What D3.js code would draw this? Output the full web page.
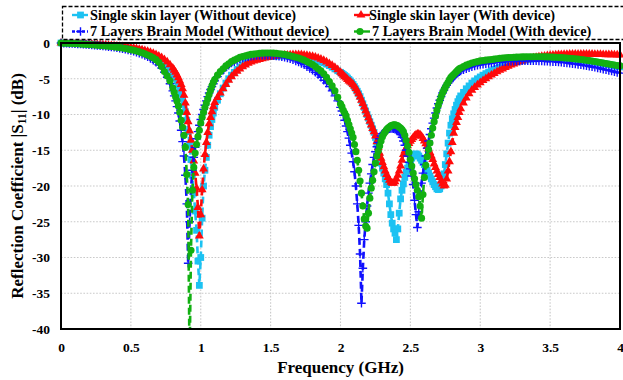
<!DOCTYPE html>
<html><head><meta charset="utf-8">
<script src="https://cdn.jsdelivr.net/npm/d3@7"></script>
<style>
html,body{margin:0;padding:0;background:#fff;}
svg{display:block;font-family:"Liberation Serif","Times New Roman",serif;font-weight:bold;}
</style></head>
<body><svg id="c" width="623" height="380"></svg>
<script>
// Frequency grid (GHz): 0.02 step, 0.01 step around the resonances
const freq = [].concat(
  d3.range(0, 80, 2), d3.range(80, 110, 1), d3.range(110, 200, 2),
  d3.range(200, 286, 1), d3.range(286, 401, 2)).map(i => i / 100);

const xTicks = [0, 0.5, 1, 1.5, 2, 2.5, 3, 3.5, 4];
const yTicks = [0, -5, -10, -15, -20, -25, -30, -35, -40];

const seriesNames = [
  "Single skin layer (Without device)",
  "Single skin layer (With device)",
  "7 Layers Brain Model (Without device)",
  "7 Layers Brain Model (With device)"
];

// Single skin layer (Without device)  |S11| dB
const skinWithout = [
 0,-0.01,-0.02,-0.03,-0.05,-0.06,-0.08,-0.1,-0.12,-0.14,
 -0.16,-0.18,-0.2,-0.23,-0.26,-0.29,-0.32,-0.35,-0.38,-0.42,
 -0.46,-0.5,-0.55,-0.6,-0.66,-0.72,-0.79,-0.87,-0.96,-1.06,
 -1.17,-1.3,-1.45,-1.62,-1.82,-2.05,-2.32,-2.65,-3.05,-3.55,
 -4.1,-4.45,-4.85,-5.3,-5.8,-6.35,-7.0,-7.75,-8.6,-9.6,
 -10.8,-12.4,-14.2,-16.3,-18.5,-21.0,-23.5,-26.2,-30.5,-33.9,
 -30.0,-24.5,-20.0,-17.8,-16.0,-14.3,-12.9,-11.7,-10.7,-9.8,
 -9.0,-8.0,-7.1,-6.3,-5.6,-5.0,-4.5,-4.1,-3.7,-3.35,
 -3.05,-2.8,-2.6,-2.45,-2.32,-2.2,-2.1,-2.02,-1.95,-1.9,
 -1.9,-1.86,-1.83,-1.81,-1.8,-1.8,-1.81,-1.82,-1.84,-1.87,
 -1.91,-1.96,-2.02,-2.09,-2.17,-2.26,-2.36,-2.48,-2.62,-2.78,
 -2.96,-3.16,-3.38,-3.62,-3.88,
 -4.1,-4.25,-4.4,-4.55,-4.7,-4.9,-5.1,-5.3,-5.55,-5.8,
 -6.1,-6.4,-6.75,-7.1,-7.5,-8.0,-8.5,-9.0,-9.5,-10.0,
 -10.5,-11.0,-11.5,-12.0,-12.5,-13.2,-14.1,-15.0,-15.9,-16.8,
 -17.5,-18.2,-19.0,-19.8,-21.0,-22.5,-24.0,-25.2,-26.0,-26.6,
 -27.5,-26.0,-23.8,-21.8,-20.6,-19.7,-18.8,-18.1,-17.5,-17.0,
 -16.5,-16.1,-15.8,-15.6,-15.5,-15.6,-15.8,-16.1,-16.4,-16.7,
 -17.0,-17.4,-17.8,-18.2,-18.6,-19.0,-19.4,-19.8,-20.1,-20.4,
 -20.5,-20.4,-20.0,-19.2,-18.3,-17.0,-15.5,-14.0,-12.6,-11.5,
 -10.6,-9.9,-9.3,-8.7,-8.2,-7.8,
 -7.4,-6.9,-6.4,-6.0,-5.6,-5.3,-5.0,-4.75,-4.5,-4.28,
 -4.07,-3.88,-3.7,-3.53,-3.37,-3.22,-3.08,-2.95,-2.83,-2.72,
 -2.62,-2.53,-2.45,-2.38,-2.32,-2.27,-2.22,-2.18,-2.15,-2.13,
 -2.11,-2.1,-2.1,-2.1,-2.11,-2.12,-2.14,-2.16,-2.19,-2.22,
 -2.25,-2.29,-2.33,-2.38,-2.43,-2.48,-2.54,-2.6,-2.66,-2.73,
 -2.8,-2.87,-2.94,-3.02,-3.1,-3.18,-3.26,-3.35
];

// Single skin layer (With device)
const skinWith = [
 0,-0.01,-0.02,-0.03,-0.04,-0.05,-0.07,-0.09,-0.11,-0.13,
 -0.15,-0.17,-0.19,-0.21,-0.24,-0.27,-0.3,-0.33,-0.36,-0.39,
 -0.43,-0.47,-0.51,-0.56,-0.61,-0.67,-0.73,-0.8,-0.88,-0.97,
 -1.07,-1.18,-1.31,-1.46,-1.63,-1.83,-2.06,-2.33,-2.65,-3.05,
 -3.5,-3.8,-4.1,-4.45,-4.85,-5.3,-5.8,-6.4,-7.3,-8.4,
 -9.7,-11.0,-12.3,-13.6,-15.0,-16.5,-18.2,-20.3,-23.0,-27.0,
 -24.0,-20.5,-17.6,-15.6,-13.9,-12.5,-11.3,-10.4,-9.6,-8.9,
 -8.3,-7.6,-7.0,-6.4,-5.8,-5.2,-4.7,-4.3,-3.95,-3.62,
 -3.32,-3.06,-2.84,-2.66,-2.52,-2.4,-2.29,-2.19,-2.1,-2.02,
 -1.95,-1.89,-1.84,-1.79,-1.75,-1.71,-1.68,-1.65,-1.63,-1.62,
 -1.62,-1.64,-1.68,-1.73,-1.8,-1.88,-1.98,-2.1,-2.25,-2.43,
 -2.64,-2.88,-3.14,-3.42,-3.72,
 -4.1,-4.3,-4.5,-4.7,-4.9,-5.1,-5.3,-5.45,-5.6,-5.8,
 -6.05,-6.35,-6.7,-7.1,-7.55,-8.0,-8.45,-8.95,-9.45,-9.95,
 -10.45,-10.95,-11.45,-11.95,-12.4,-13.0,-13.8,-14.6,-15.4,-16.1,
 -16.7,-17.3,-17.9,-18.4,-18.8,-19.2,-19.45,-19.6,-19.6,-19.4,
 -19.0,-18.5,-17.9,-17.2,-16.4,-15.6,-15.1,-14.7,-14.35,-14.05,
 -13.75,-13.5,-13.25,-13.0,-12.85,-12.75,-12.75,-12.85,-13.05,-13.35,
 -13.7,-14.1,-14.45,-14.8,-15.3,-15.8,-16.3,-16.9,-17.4,-17.9,
 -18.4,-18.8,-19.3,-19.7,-20.0,-19.9,-19.0,-17.9,-16.6,-15.2,
 -13.9,-12.6,-11.8,-11.1,-10.4,-9.7,
 -9.2,-8.4,-7.7,-7.1,-6.6,-6.2,-5.85,-5.55,-5.25,-4.98,
 -4.72,-4.48,-4.25,-4.03,-3.82,-3.62,-3.43,-3.25,-3.08,-2.92,
 -2.77,-2.63,-2.5,-2.38,-2.27,-2.17,-2.08,-2.0,-1.93,-1.87,
 -1.82,-1.77,-1.73,-1.7,-1.67,-1.64,-1.62,-1.6,-1.58,-1.57,
 -1.56,-1.55,-1.55,-1.55,-1.55,-1.56,-1.56,-1.57,-1.58,-1.59,
 -1.6,-1.61,-1.62,-1.63,-1.64,-1.65,-1.66,-1.67
];

// 7 Layers Brain Model (Without device)
const brainWithout = [
 0,-0.02,-0.04,-0.06,-0.08,-0.10,-0.12,-0.15,-0.18,-0.21,
 -0.24,-0.27,-0.3,-0.34,-0.38,-0.42,-0.46,-0.5,-0.55,-0.6,
 -0.66,-0.72,-0.79,-0.87,-0.96,-1.05,-1.16,-1.28,-1.42,-1.57,
 -1.74,-1.93,-2.15,-2.4,-2.7,-3.05,-3.5,-4.1,-4.8,-5.7,
 -6.7,-7.4,-8.1,-8.9,-9.8,-10.9,-12.2,-13.8,-15.8,-18.5,
 -22.5,-30.8,-25.0,-20.5,-17.8,-16.0,-14.6,-13.4,-12.4,-11.5,
 -10.7,-10.0,-9.3,-8.7,-8.1,-7.5,-7.0,-6.5,-6.1,-5.7,
 -5.3,-4.7,-4.2,-3.8,-3.4,-3.1,-2.8,-2.6,-2.4,-2.2,
 -2.1,-2.0,-1.9,-1.85,-1.8,-1.75,-1.72,-1.7,-1.7,-1.7,
 -1.72,-1.75,-1.8,-1.85,-1.9,-2.0,-2.1,-2.2,-2.35,-2.5,
 -2.65,-2.85,-3.05,-3.3,-3.55,-3.8,-4.1,-4.4,-4.8,-5.2,
 -5.6,-6.1,-6.7,-7.4,-8.1,
 -9.0,-9.5,-10.1,-10.8,-11.6,-12.4,-13.3,-14.3,-15.4,-16.6,
 -18.0,-20.0,-22.5,-25.5,-29.5,-36.4,-31.5,-27.5,-25.0,-22.8,
 -21.0,-19.6,-18.3,-17.0,-16.0,-15.2,-14.5,-13.9,-13.4,-13.0,
 -12.7,-12.5,-12.3,-12.15,-12.05,-12.0,-11.95,-11.95,-12.0,-12.05,
 -12.15,-12.3,-12.5,-12.8,-13.2,-13.7,-14.3,-15.0,-15.8,-16.7,
 -17.6,-18.6,-19.8,-22.0,-24.0,-25.8,-23.6,-21.3,-19.6,-18.2,
 -17.0,-15.8,-14.7,-13.7,-12.8,-12.0,-11.2,-10.5,-9.8,-9.1,
 -8.5,-8.0,-7.5,-7.0,-6.6,-6.2,-5.9,-5.6,-5.4,-5.1,
 -4.9,-4.7,-4.5,-4.3,-4.2,-4.0,
 -3.9,-3.75,-3.6,-3.45,-3.3,-3.2,-3.1,-3.0,-2.95,-2.9,
 -2.85,-2.8,-2.75,-2.7,-2.66,-2.63,-2.6,-2.57,-2.55,-2.53,
 -2.51,-2.5,-2.49,-2.48,-2.48,-2.48,-2.48,-2.49,-2.5,-2.51,
 -2.53,-2.55,-2.57,-2.6,-2.63,-2.66,-2.7,-2.74,-2.78,-2.83,
 -2.88,-2.93,-2.99,-3.05,-3.11,-3.18,-3.25,-3.32,-3.4,-3.48,
 -3.56,-3.65,-3.74,-3.83,-3.92,-4.02,-4.12,-4.22
];

// 7 Layers Brain Model (With device)
const brainWith = [
 0,-0.02,-0.03,-0.05,-0.07,-0.09,-0.11,-0.13,-0.16,-0.19,
 -0.22,-0.25,-0.28,-0.31,-0.34,-0.37,-0.41,-0.45,-0.49,-0.54,
 -0.59,-0.64,-0.70,-0.77,-0.85,-0.93,-1.02,-1.12,-1.24,-1.37,
 -1.52,-1.68,-1.87,-2.08,-2.33,-2.7,-3.3,-4.0,-4.6,-5.3,
 -6.3,-6.9,-7.5,-8.1,-8.8,-9.7,-10.8,-11.8,-12.9,-14.6,
 -18.4,-22.6,-45,-29,-20.6,-17.4,-15.4,-14.2,-13.1,-12.2,
 -11.2,-10.4,-9.7,-9.0,-8.4,-7.8,-7.2,-6.6,-6.0,-5.5,
 -5.1,-4.5,-4.0,-3.6,-3.2,-2.9,-2.6,-2.4,-2.2,-2.0,
 -1.9,-1.8,-1.7,-1.6,-1.55,-1.5,-1.45,-1.42,-1.4,-1.4,
 -1.4,-1.42,-1.45,-1.5,-1.55,-1.6,-1.7,-1.8,-1.9,-2.0,
 -2.1,-2.25,-2.4,-2.6,-2.8,-3.0,-3.3,-3.6,-3.9,-4.3,
 -4.8,-5.4,-6.0,-6.7,-7.6,
 -8.5,-8.9,-9.4,-9.8,-10.2,-10.8,-11.4,-12.0,-12.6,-13.2,
 -14.2,-15.2,-16.4,-17.8,-19.3,-21.0,-22.8,-24.6,-25.6,-25.9,
 -23.8,-21.7,-20.3,-19.2,-18.0,-16.8,-15.8,-15.1,-14.4,-13.7,
 -13.1,-12.7,-12.4,-12.1,-11.9,-11.75,-11.6,-11.5,-11.45,-11.45,
 -11.5,-11.6,-11.75,-11.9,-12.1,-12.4,-12.9,-13.6,-14.4,-15.3,
 -16.3,-17.2,-18.2,-19.0,-19.8,-20.6,-21.5,-22.8,-24.5,-21.2,
 -18.8,-17.1,-15.9,-14.9,-14.0,-12.9,-11.9,-11.0,-10.2,-9.4,
 -8.7,-8.1,-7.5,-7.0,-6.6,-6.2,-5.8,-5.5,-5.1,-4.8,
 -4.6,-4.4,-4.2,-4.0,-3.8,-3.6,
 -3.5,-3.3,-3.1,-2.95,-2.8,-2.7,-2.6,-2.5,-2.45,-2.4,
 -2.35,-2.3,-2.25,-2.2,-2.15,-2.1,-2.07,-2.04,-2.02,-2.0,
 -1.98,-1.96,-1.95,-1.94,-1.93,-1.92,-1.92,-1.92,-1.92,-1.93,
 -1.94,-1.95,-1.96,-1.98,-2.0,-2.02,-2.05,-2.08,-2.11,-2.14,
 -2.18,-2.22,-2.26,-2.31,-2.36,-2.41,-2.47,-2.53,-2.59,-2.65,
 -2.72,-2.79,-2.86,-2.93,-3.0,-3.07,-3.14,-3.2
];

const seriesColors = ["#1cc2f2", "#ff0a0a", "#1010ff", "#12b012"];
const seriesValues = [skinWithout, skinWith, brainWithout, brainWith];
const seriesMarkers = ["square", "triangle", "plus", "circle"];

[skinWithout, skinWith, brainWithout, brainWith].forEach((a, i) => {
  if (a.length !== freq.length) console.error("length mismatch", i, a.length, freq.length);
});

const svg = d3.select("#c");
const L = 61, R = 620, T = 43, B = 329;
const x = d3.scaleLinear().domain([0, 4]).range([L, R]);
const y = d3.scaleLinear().domain([-40, 0]).range([B, T]);

// grid
const grid = svg.append("g").attr("stroke", "#c9c9c9").attr("stroke-width", 1.1).attr("stroke-dasharray", "1.6,1.6");
grid.selectAll("line.v").data(xTicks.filter(d => d > 0 && d < 4)).join("line")
  .attr("x1", d => x(d)).attr("x2", d => x(d)).attr("y1", T).attr("y2", B);
grid.selectAll("line.h").data(yTicks.filter(d => d < 0 && d > -40)).join("line")
  .attr("x1", L).attr("x2", R).attr("y1", d => y(d)).attr("y2", d => y(d));

// axes labels
const fmt = d => String(d);
const ya = svg.append("g").attr("transform", `translate(${L},0)`)
  .call(d3.axisLeft(y).tickValues(yTicks).tickSize(0).tickPadding(11).tickFormat(fmt));
const xa = svg.append("g").attr("transform", `translate(0,${B})`)
  .call(d3.axisBottom(x).tickValues(xTicks).tickSize(0).tickPadding(13).tickFormat(fmt));
[ya, xa].forEach(g => {
  g.select(".domain").remove();
  g.selectAll("text").attr("font-family", "Liberation Serif, Times New Roman, serif")
    .attr("font-weight", "bold").attr("font-size", 13.5).attr("fill", "#000");
});

// clip
svg.append("clipPath").attr("id", "clip").append("rect")
  .attr("x", L - 10).attr("y", T - 8).attr("width", R - L + 20).attr("height", B - T + 8);

function marker(sel, type, color) {
  if (type === "plus") {
    sel.append("path").attr("d", "M-4.3,0H4.3M0,-4.3V4.3")
      .attr("stroke", color).attr("stroke-width", 1.4).attr("fill", "none");
  } else {
    const t = type === "square" ? d3.symbolSquare : type === "triangle" ? d3.symbolTriangle : d3.symbolCircle;
    const s = type === "square" ? 46 : type === "triangle" ? 34 : 40;
    sel.append("path").attr("d", d3.symbol().type(t).size(s)()).attr("fill", color);
  }
}

const plot = svg.append("g").attr("clip-path", "url(#clip)");
seriesValues.forEach((vals, i) => {
  const pts = freq.map((f, k) => [f, vals[k]]);
  const g = plot.append("g");
  g.append("path").datum(pts)
    .attr("d", d3.line().x(d => x(d[0])).y(d => y(d[1])))
    .attr("fill", "none").attr("stroke", seriesColors[i])
    .attr("stroke-width", 2.6).attr("stroke-dasharray", "7,4");
  g.selectAll("g.m").data(pts).join("g")
    .attr("transform", d => `translate(${x(d[0])},${y(d[1])})`)
    .each(function () { marker(d3.select(this), seriesMarkers[i], seriesColors[i]); });
});

// frame
svg.append("rect").attr("x", L).attr("y", T).attr("width", R - L).attr("height", B - T)
  .attr("fill", "none").attr("stroke", "#000").attr("stroke-width", 2);

// legend
const lg = svg.append("g");
lg.append("rect").attr("x", 62.5).attr("y", 6.5).attr("width", 580).attr("height", 33)
  .attr("fill", "#fff").attr("stroke", "#000").attr("stroke-width", 1.3).attr("stroke-dasharray", "4,2");
const legPos = [
  {lx: 72, mx: 80.5, tx: 90, y: 15},
  {lx: 354, mx: 361, tx: 369, y: 15},
  {lx: 72, mx: 80.5, tx: 90, y: 31.5},
  {lx: 354, mx: 360, tx: 369, y: 31.5}
];
seriesNames.forEach((name, i) => {
  const p = legPos[i];
  const g = lg.append("g");
  g.append("line").attr("x1", p.lx).attr("x2", p.lx + 16).attr("y1", p.y).attr("y2", p.y)
    .attr("stroke", seriesColors[i]).attr("stroke-width", 2.4).attr("stroke-dasharray", i === 2 ? "3,2" : null);
  const m = g.append("g").attr("transform", `translate(${p.mx},${p.y})`);
  marker(m, seriesMarkers[i], seriesColors[i]);
  g.append("text").attr("x", i === 3 ? p.tx + 3 : p.tx).attr("y", p.y + 4.8)
    .attr("font-size", 14.3).text(name);
});

// axis titles
svg.append("text").attr("x", (L + R) / 2).attr("y", 373).attr("text-anchor", "middle")
  .attr("font-size", 17).text("Frequency (GHz)");
const yt = svg.append("text").attr("transform", `translate(23,${(T + B) / 2}) rotate(-90)`)
  .attr("text-anchor", "middle").attr("font-size", 17);
yt.append("tspan").text("Reflection Coefficient |S");
yt.append("tspan").attr("font-size", 11.5).attr("dy", 3).text("11");
yt.append("tspan").attr("dy", -3).text("| (dB)");
</script></body></html>
